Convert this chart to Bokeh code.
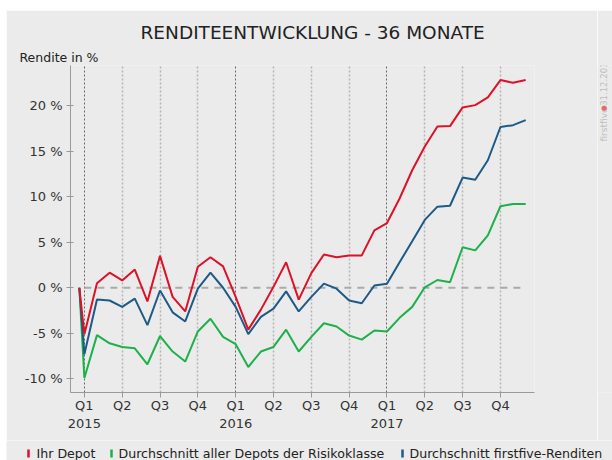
import math
from bokeh.plotting import figure
from bokeh.layouts import row, column
from bokeh.models import FixedTicker, Grid, Title, Label
from bokeh.embed import file_html
from bokeh.resources import INLINE

# ---------------- data ----------------
months = [-0.4] + list(range(36))  # month index, 0 = Jan 2015
ihr_depot = [0, -5.1, 0.5, 1.65, 0.8, 2.0, -1.5, 3.5, -1.0, -2.6, 2.3, 3.35, 2.35,
             -1.0, -4.6, -2.4, 0.1, 2.8, -1.3, 1.6, 3.65, 3.35, 3.55, 3.55, 6.3,
             7.1, 9.8, 12.9, 15.5, 17.7, 17.75, 19.8, 20.05, 20.9, 22.8, 22.5, 22.8]
risikoklasse = [0, -9.9, -5.2, -6.1, -6.5, -6.65, -8.4, -5.3, -7.0, -8.1, -4.8, -3.4,
                -5.4, -6.2, -8.7, -7.0, -6.5, -4.6, -7.0, -5.4, -3.9, -4.25, -5.25,
                -5.7, -4.7, -4.8, -3.3, -2.1, 0.05, 0.85, 0.6, 4.45, 4.1, 5.75, 8.95,
                9.2, 9.2]
firstfive = [0, -7.3, -1.3, -1.4, -2.1, -1.2, -4.1, -0.3, -2.7, -3.7, -0.1, 1.65, 0,
             -2.1, -5.1, -3.2, -2.3, -0.4, -2.6, -1.0, 0.45, -0.1, -1.4, -1.7, 0.25,
             0.45, 2.8, 5.1, 7.45, 8.9, 9.0, 12.1, 11.85, 14.0, 17.65, 17.85, 18.4]

quarter_ticks = list(range(0, 36, 3))
quarter_labels = ["Q1\n2015", "Q2", "Q3", "Q4",
                  "Q1\n2016", "Q2", "Q3", "Q4",
                  "Q1\n2017", "Q2", "Q3", "Q4"]
year_ticks = [t for t, l in zip(quarter_ticks, quarter_labels) if "\n" in l]
other_ticks = [t for t in quarter_ticks if t not in year_ticks]
y_ticks = [-10, -5, 0, 5, 10, 15, 20]
y_labels = [f"{t} %" for t in y_ticks]

series_names = ["Ihr Depot", "Durchschnitt aller Depots der Risikoklasse",
                "Durchschnitt firstfive-Renditen"]
RED, GREEN, BLUE = "#dc1228", "#1eb04a", "#1d5a87"
BG = "#ebebeb"
FONT = "DejaVu Sans"
TXT = "#222222"

MAIN_W, MAIN_H, LEG_H, SIDE_W = 591, 430, 20, 15
FULL_W = MAIN_W + SIDE_W

# ---------------- main chart ----------------
p = figure(width=MAIN_W, height=MAIN_H, x_range=(-1.1, 35.7),
           y_range=(-11.5, 24.4), title=None, output_backend="svg",
           toolbar_location=None,
           min_border_left=64, min_border_right=63, min_border_top=55,
           min_border_bottom=48, background_fill_color=BG,
           border_fill_color=BG, outline_line_color=None)

p.xgrid.visible = False
p.ygrid.visible = False

g1 = Grid(dimension=0, ticker=FixedTicker(ticks=other_ticks),
          grid_line_color="#b4b4b4", grid_line_width=1.5, grid_line_dash="2 2")
g2 = Grid(dimension=0, ticker=FixedTicker(ticks=year_ticks),
          grid_line_color="#666666", grid_line_width=1, grid_line_dash="2 2")
p.add_layout(g1)
p.add_layout(g2)

for ax in (p.xaxis[0], p.yaxis[0]):
    ax.axis_line_color = "#999999"
    ax.major_tick_line_color = "#999999"
    ax.minor_tick_line_color = None
    ax.major_label_text_font = FONT
    ax.major_label_text_font_size = "13px"
    ax.major_label_text_color = "#333333"

p.xaxis.ticker = FixedTicker(ticks=quarter_ticks)
p.xaxis.major_label_overrides = {t: l for t, l in zip(quarter_ticks, quarter_labels)}
p.xaxis.major_tick_out = 5
p.xaxis.major_tick_in = 0
p.xaxis.major_label_standoff = 0

p.yaxis.ticker = FixedTicker(ticks=y_ticks)
p.yaxis.major_label_overrides = {t: l for t, l in zip(y_ticks, y_labels)}
p.yaxis.major_tick_out = 4
p.yaxis.major_tick_in = 3
p.yaxis.major_label_standoff = 4

p.line(x=[months[1], months[-1]], y=[0, 0], line_color="#aaaaaa", line_width=2,
       line_dash="7 6")

p.line(months, risikoklasse, line_color=GREEN, line_width=2)
p.line(months, firstfive, line_color=BLUE, line_width=2)
p.line(months, ihr_depot, line_color=RED, line_width=2)

# titles (first added sits closest to the plot)
p.add_layout(Title(text="Rendite in %", align="left", offset=-51, standoff=1,
                   text_font=FONT, text_font_size="12.5px",
                   text_font_style="normal", text_color=TXT), "above")
p.add_layout(Title(text="RENDITEENTWICKLUNG - 36 MONATE", align="left",
                   offset=70, standoff=9, text_font=FONT,
                   text_font_size="18.5px", text_font_style="normal",
                   text_color=TXT), "above")

# ---------------- watermark strip (right of chart) ----------------
sd = figure(width=SIDE_W, height=MAIN_H, x_range=(0, SIDE_W), y_range=(0, MAIN_H),
            title=None, output_backend="svg", toolbar_location=None,
            x_axis_type=None, y_axis_type=None, min_border=0,
            background_fill_color=BG, border_fill_color=BG,
            outline_line_color=None)
sd.xgrid.visible = False
sd.ygrid.visible = False
for txt, ypos, col, size in (("firstfive", 330, "#bdbdbd", "9px"),
                             ("\u25cf", 370, "#e86a6a", "7px"),
                             ("31.12.2017", 377, "#bdbdbd", "8.5px")):
    sd.add_layout(Label(x=6, y=ypos, text=txt, angle=math.pi / 2,
                        text_font=FONT, text_font_size=size, text_color=col,
                        text_align="left", text_baseline="middle"))

# ---------------- legend strip (full width) ----------------
lg = figure(width=FULL_W, height=LEG_H, x_range=(0, FULL_W), y_range=(0, LEG_H),
            title=None, output_backend="svg", toolbar_location=None,
            x_axis_type=None, y_axis_type=None, min_border=0,
            background_fill_color=BG, border_fill_color=BG,
            outline_line_color=None)
lg.xgrid.visible = False
lg.ygrid.visible = False
bar_x = [22, 105, 396]
text_x = [30, 112, 403]
row_y = 7
lg.rect(x=bar_x, y=[row_y] * 3, width=2.5, height=8,
        fill_color=[RED, GREEN, BLUE], line_color=None)
for tx, name in zip(text_x, series_names):
    lg.add_layout(Label(x=tx, y=row_y, text=name, text_font=FONT,
                        text_font_size="12.6px", text_color=TXT,
                        text_align="left", text_baseline="middle"))

layout = column(row(p, sd, spacing=0), lg, spacing=0, margin=(10, 0, 0, 6))

open("out.html", "w").write(file_html(layout, INLINE))
